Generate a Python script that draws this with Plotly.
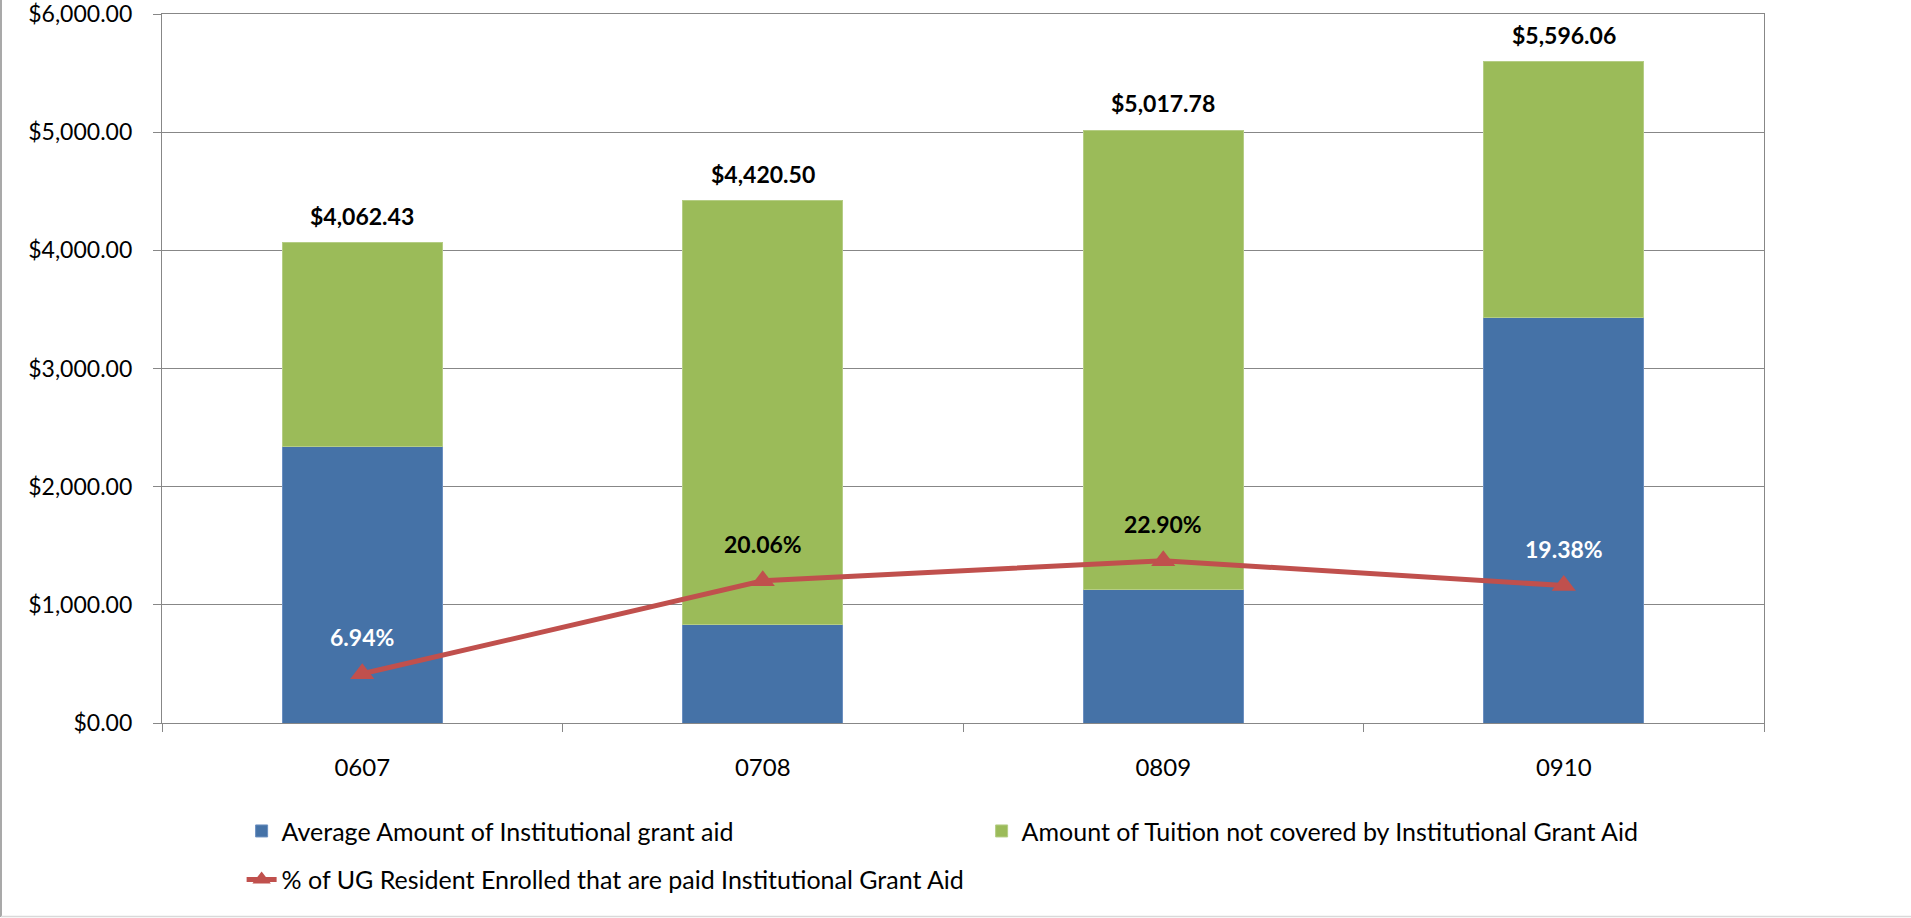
import plotly.graph_objects as go

# ---- data ----
categories = ["0607", "0708", "0809", "0910"]
grant_aid = [2338.0, 835.0, 1131.0, 3433.0]                 # Average Amount of Institutional grant aid
not_covered = [1724.43, 3585.50, 3886.78, 2163.06]          # Amount of Tuition not covered by Institutional Grant Aid
pct_paid = [6.94, 20.06, 22.90, 19.38]                      # % of UG Resident Enrolled that are paid Institutional Grant Aid
y_ticks = [0, 1000, 2000, 3000, 4000, 5000, 6000]

name_aid = "Average Amount of Institutional grant aid"
name_nc = "Amount of Tuition not covered by Institutional Grant Aid"
name_pct = "% of UG Resident Enrolled that are paid Institutional Grant Aid"

# ---- style ----
FONT = "Lato"
BLUE = "#4572A7"
GREEN = "#9BBB59"
RED = "#C0504D"
GRID = "#878787"
pct_label_colors = ["white", "black", "black", "white"]

fig = go.Figure()
fig.add_trace(go.Bar(x=categories, y=grant_aid, name=name_aid,
                     marker=dict(color=BLUE, line=dict(color="#6b8fc0", width=1)),
                     legend="legend"))
fig.add_trace(go.Bar(x=categories, y=not_covered, name=name_nc,
                     marker=dict(color=GREEN, line=dict(color="#b5cd85", width=1)),
                     legend="legend"))
fig.add_trace(go.Scatter(x=categories, y=pct_paid, name=name_pct, yaxis="y2",
                         mode="lines+markers",
                         line=dict(color=RED, width=5),
                         marker=dict(symbol="triangle-up", size=21, color=RED),
                         legend="legend2"))

totals = [a + b for a, b in zip(grant_aid, not_covered)]
annotations = []
for i, t in enumerate(totals):
    annotations.append(dict(x=i, y=t, xref="x", yref="y", text="<b>${:,.2f}</b>".format(t),
                            showarrow=False, yshift=27,
                            font=dict(family=FONT, size=23, color="black")))
for i, (p, col) in enumerate(zip(pct_paid, pct_label_colors)):
    annotations.append(dict(x=i, y=p, xref="x", yref="y2", text="<b>{:.2f}%</b>".format(p),
                            showarrow=False, yshift=37,
                            font=dict(family=FONT, size=23, color=col)))

shapes = [
    dict(type="line", xref="paper", yref="paper", x0=(1 - 162) / 1602, x1=(1 - 162) / 1602,
         y0=(723 - 917) / 709, y1=(723 + 14) / 709, line=dict(color="#8c8c8c", width=1.5)),
    dict(type="line", xref="paper", yref="paper", x0=(1 - 162) / 1602, x1=(1911 - 162) / 1602,
         y0=(723 - 916.5) / 709, y1=(723 - 916.5) / 709, line=dict(color="#d9d9d9", width=1.5)),
]

fig.update_layout(
    width=1911, height=918,
    margin=dict(l=162, r=147, t=14, b=195, autoexpand=False),
    paper_bgcolor="white", plot_bgcolor="white",
    barmode="stack", bargap=0.6,
    font=dict(family=FONT, size=24, color="black"),
    showlegend=True,
    annotations=annotations,
    shapes=shapes,
    xaxis=dict(type="category", range=[-0.5, 3.5], tickson="boundaries", ticks="outside", ticklen=8,
               tickcolor=GRID, showline=True, linecolor=GRID, linewidth=1.3, mirror=True,
               showgrid=False, ticklabelstandoff=23, tickangle=0, automargin=False,
               tickfont=dict(family=FONT, size=24, color="black")),
    yaxis=dict(range=[0, 6000], tickvals=y_ticks, tickformat="$,.2f", ticks="outside",
               ticklen=8, tickcolor=GRID, showline=True, linecolor=GRID, linewidth=1.3,
               mirror=True, showgrid=True, gridcolor=GRID, gridwidth=1.3, zeroline=False,
               ticklabelstandoff=16, automargin=False, ticklabeloverflow="allow",
               tickfont=dict(family=FONT, size=23, color="black")),
    yaxis2=dict(range=[0, 100], overlaying="y", side="right", visible=False),
    legend=dict(orientation="h", x=0.0497, xanchor="left", y=-0.1526, yanchor="middle",
                traceorder="normal", entrywidth=695, entrywidthmode="pixels",
                font=dict(family=FONT, size=25, color="black"), bgcolor="rgba(0,0,0,0)"),
    legend2=dict(orientation="h", x=0.0497, xanchor="left", y=-0.221, yanchor="middle",
                 font=dict(family=FONT, size=25, color="black"), bgcolor="rgba(0,0,0,0)"),
)

fig.write_html("out.html", config={"displayModeBar": False},
               post_script="document.body.style.margin='0';")
